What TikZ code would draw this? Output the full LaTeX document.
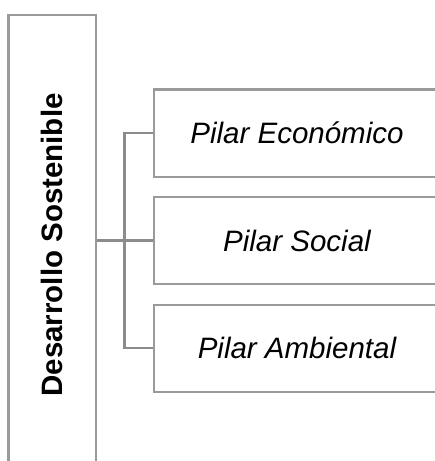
\documentclass[tikz,border=0pt]{standalone}
\usepackage{fontspec}
\setmainfont{Liberation Sans}
\definecolor{boxgray}{HTML}{9A9A9A}
\definecolor{linegray}{HTML}{8C8C8C}
\begin{document}
\begin{tikzpicture}[x=1pt,y=-1pt,
  mainbox/.style={draw=boxgray,line width=2.2pt,fill=white,inner sep=0pt,
    minimum width=87.2pt,minimum height=460pt},
  pilarbox/.style={draw=boxgray,line width=2.2pt,fill=white,inner sep=0pt,
    minimum width=286pt,minimum height=87.2pt,
    font=\fontsize{29.5}{35}\selectfont\itshape},
  conn/.style={draw=linegray,line width=2.2pt}]
\useasboundingbox (0,0) rectangle (435,461);
\clip (0,0) rectangle (435,461);
\node[mainbox] (ds) at (52,245) {};
\node[rotate=90,font=\fontsize{29.5}{35}\selectfont\bfseries] (dstext) at (52,245) {Desarrollo Sostenible};
\node[pilarbox] (p1) at (297,133) {Pilar Económico};
\node[pilarbox] (p2) at (297,240.5) {Pilar Social};
\node[pilarbox] (p3) at (297,348.3) {Pilar Ambiental};
\coordinate (j) at (124.5,240.5);
\draw[conn] (ds.east |- j) -- (j);
\draw[conn] (j) -- (p2.west);
\draw[conn] (p1.west) -| (j) |- (p3.west);
\end{tikzpicture}
\end{document}
